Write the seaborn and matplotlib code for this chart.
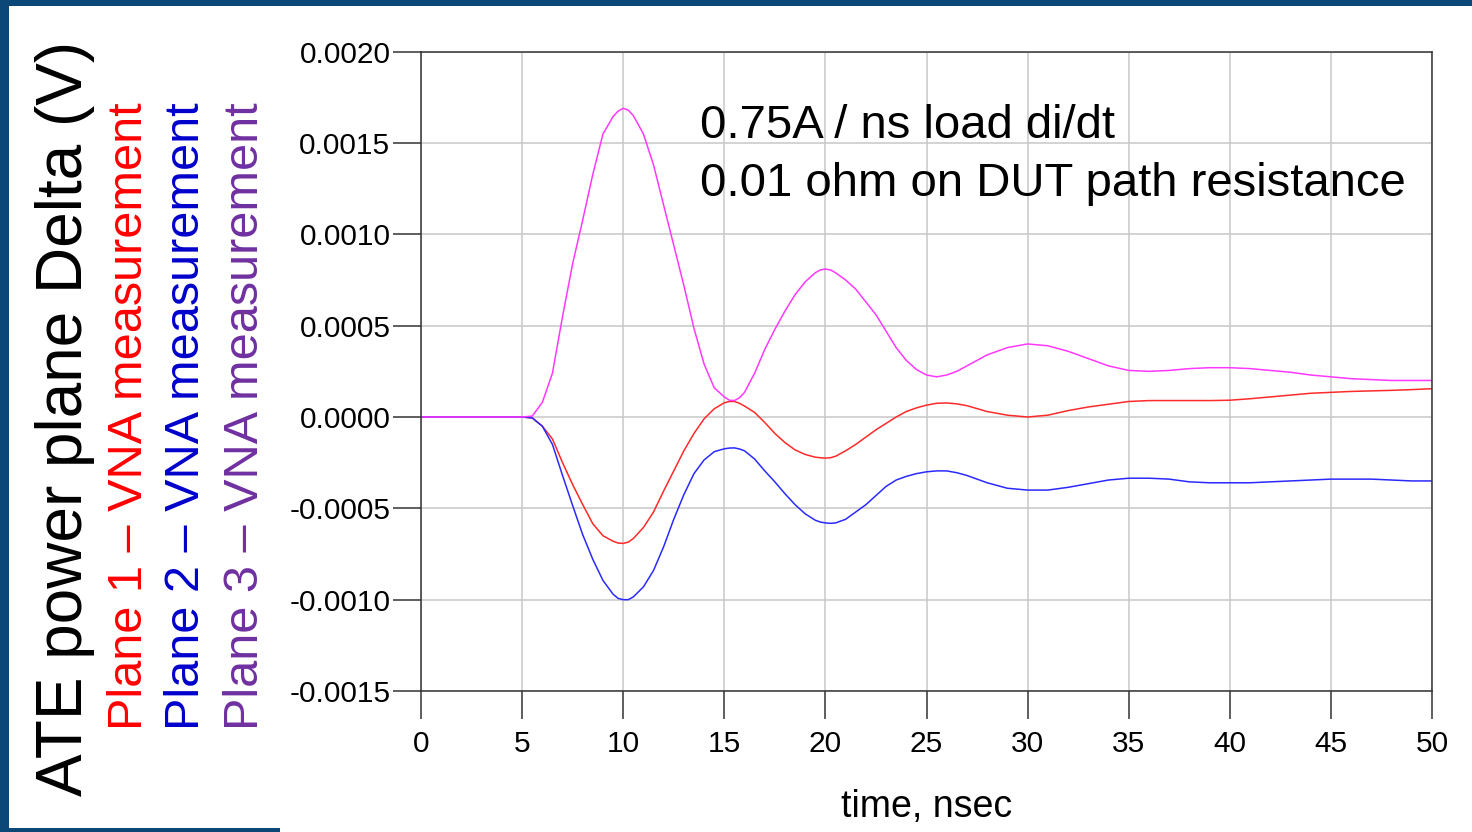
import numpy as np
import pandas as pd
import matplotlib
matplotlib.use("Agg")
import matplotlib.pyplot as plt
from matplotlib.patches import Rectangle
import seaborn as sns

# time axis (nsec)
time_ns = [0, 5.0, 5.5, 6.0, 6.5, 7.0, 7.5, 8.0, 8.5, 9.0, 9.5, 9.75,
           10.0, 10.25, 10.5, 11.0, 11.5, 12.0, 12.5, 13.0, 13.5, 14.0, 14.5,
           15.0, 15.25, 15.5, 15.75, 16.0, 16.5, 17.0, 17.5, 18.0, 18.5, 19.0, 19.5, 19.75,
           20.0, 20.25, 20.5, 21.0, 21.5, 22.0, 22.5, 23.0, 23.5, 24.0, 24.5,
           25.0, 25.5, 26.0, 26.5, 27.0, 28, 29, 30, 31, 32, 33, 34, 35,
           36, 37, 38, 39, 40, 41, 42, 43, 44, 45, 46, 47, 48, 49, 50]

# in units of 1e-4 V
plane3 = [0, 0, 0.05, 0.8, 2.4, 5.5, 8.4, 10.8, 13.3, 15.5, 16.45, 16.75,
          16.9, 16.8, 16.5, 15.5, 13.8, 11.6, 9.4, 7.2, 4.85, 2.9, 1.6,
          1.1, 0.92, 0.9, 1.05, 1.35, 2.4, 3.7, 4.8, 5.8, 6.7, 7.4, 7.9, 8.05,
          8.1, 8.05, 7.9, 7.5, 7.0, 6.3, 5.6, 4.7, 3.8, 3.1, 2.6,
          2.3, 2.2, 2.3, 2.5, 2.8, 3.4, 3.8, 4.0, 3.9, 3.6, 3.2, 2.8, 2.55,
          2.5, 2.55, 2.65, 2.7, 2.7, 2.65, 2.55, 2.45, 2.3, 2.2, 2.1, 2.05, 2.0, 2.0, 2.0]
plane1 = [0, 0, -0.05, -0.5, -1.2, -2.5, -3.7, -4.8, -5.85, -6.5, -6.8, -6.9,
          -6.92, -6.85, -6.65, -6.05, -5.2, -4.05, -2.95, -1.85, -0.9, -0.1, 0.45,
          0.78, 0.85, 0.85, 0.75, 0.6, 0.25, -0.3, -0.9, -1.4, -1.8, -2.05, -2.2, -2.23,
          -2.25, -2.23, -2.15, -1.85, -1.5, -1.1, -0.7, -0.35, 0.0, 0.3, 0.5,
          0.65, 0.75, 0.77, 0.72, 0.62, 0.3, 0.1, 0.0, 0.1, 0.35, 0.55, 0.7, 0.85,
          0.9, 0.9, 0.9, 0.9, 0.92, 1.0, 1.1, 1.2, 1.3, 1.35, 1.4, 1.43, 1.46, 1.5, 1.55]
plane2 = [0, 0, -0.05, -0.5, -1.5, -3.2, -4.85, -6.45, -7.8, -8.95, -9.7, -9.93,
          -10.0, -10.0, -9.85, -9.3, -8.4, -7.1, -5.6, -4.25, -3.1, -2.35, -1.9,
          -1.74, -1.7, -1.69, -1.75, -1.85, -2.3, -2.95, -3.55, -4.2, -4.8, -5.3, -5.65, -5.75,
          -5.8, -5.82, -5.8, -5.6, -5.2, -4.8, -4.3, -3.8, -3.45, -3.25, -3.1,
          -3.0, -2.95, -2.95, -3.05, -3.2, -3.6, -3.9, -4.0, -4.0, -3.85, -3.65, -3.45, -3.35,
          -3.35, -3.4, -3.55, -3.6, -3.6, -3.6, -3.55, -3.5, -3.45, -3.4, -3.4, -3.4, -3.45, -3.5, -3.5]

series_names = ["Plane 1", "Plane 2", "Plane 3"]
line_colors = ["#ff2a2a", "#2a2aff", "#ff38ff"]
yticks = [-0.0015, -0.0010, -0.0005, 0.0, 0.0005, 0.0010, 0.0015, 0.0020]
xticks = [0, 5, 10, 15, 20, 25, 30, 35, 40, 45, 50]

df = pd.DataFrame({
    "time": time_ns * 3,
    "delta": np.array(plane1 + plane2 + plane3) * 1e-4,
    "plane": sum([[n] * len(time_ns) for n in series_names], []),
})

sns.set_style("white")
plt.rcParams["font.family"] = ["Liberation Sans", "DejaVu Sans"]
plt.rcParams["text.color"] = "black"

navy = "#0b4878"
fig = plt.figure(figsize=(14.72, 8.32), dpi=100, facecolor=navy)
W, H = 1472, 832
fig.patches.append(Rectangle((9 / W, 0), 1 - 9 / W, 1 - 6 / H, transform=fig.transFigure,
                             facecolor="white", edgecolor="none", zorder=-10))
fig.patches.append(Rectangle((0, 0), 280 / W, 4 / H, transform=fig.transFigure,
                             facecolor=navy, edgecolor="none", zorder=-9))

ax = fig.add_axes([421 / W, 1 - 691 / H, (1432 - 421) / W, (691 - 51.7) / H])
ax.set_zorder(5)
sns.lineplot(data=df, x="time", y="delta", hue="plane", palette=line_colors,
             estimator=None, sort=False, linewidth=1.1, legend=False, ax=ax)

ax.set_xlim(0, 50)
ax.set_ylim(-0.0015, 0.0020)
ax.set_xticks(xticks)
ax.set_yticks(yticks)
ax.set_yticklabels([f"{v:.4f}" for v in yticks])
ax.grid(True, color="#c8c8c8", linewidth=1.1)
ax.set_axisbelow(True)
for s in ax.spines.values():
    s.set_color("#333333")
    s.set_linewidth(1.1)
ax.tick_params(axis="both", direction="out", length=20, width=1.1, color="#333333",
               labelsize=21.5, labelcolor="black", bottom=True, left=True)
ax.tick_params(axis="y", pad=2)
ax.tick_params(axis="x", pad=8)
ax.set_ylabel("")
ax.set_xlabel("time, nsec", fontsize=27, color="black")
ax.xaxis.set_label_coords(0.5, -(807 - 691) / (691 - 51.7))
ax.xaxis.label.set_va("center")

ax.text(700 / W, 1 - 138 / H, "0.75A / ns load di/dt", fontsize=34, va="baseline",
        color="black", transform=fig.transFigure)
ax.text(700 / W, 1 - 196 / H, "0.01 ohm on DUT path resistance", fontsize=34,
        va="baseline", color="black", transform=fig.transFigure)

fig.text(65 / W, 1 - 418.5 / H, "ATE power plane Delta (V)", rotation=90,
         fontsize=46, ha="center", va="center", color="black")
side_labels = ["Plane 1 \u2013 VNA measurement", "Plane 2 \u2013 VNA measurement",
               "Plane 3 \u2013 VNA measurement"]
side_colors = ["#ff0000", "#0000cc", "#7030a0"]
for lbl, c, xp in zip(side_labels, side_colors, [130, 187, 245]):
    fig.text(xp / W, 1 - 416.5 / H, lbl, rotation=90, fontsize=35,
             ha="center", va="center", color=c)

fig.savefig("out.png", dpi=100, facecolor=fig.get_facecolor())
